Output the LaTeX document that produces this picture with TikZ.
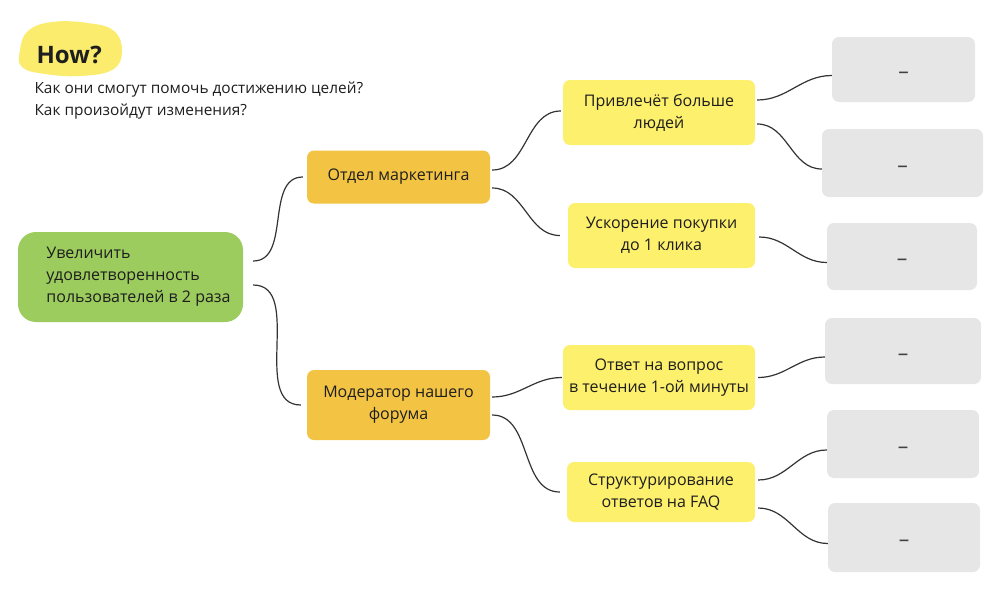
\documentclass[tikz,border=0pt]{standalone}
\usepackage{fontspec}
\setmainfont{Open Sans}
\definecolor{txt}{HTML}{1E1E1E}
\definecolor{cgreen}{HTML}{9CCB5E}
\definecolor{corange}{HTML}{F3C444}
\definecolor{cyellow}{HTML}{FDF06C}
\definecolor{cgrey}{HTML}{E6E6E6}
\definecolor{chow}{HTML}{FBEC6E}
\definecolor{cline}{HTML}{333333}
\newcommand{\indentline}{\hspace*{16pt}}
\begin{document}
\begin{tikzpicture}[x=1pt,y=-1pt,
  every node/.style={text=txt, font=\fontsize{16}{22}\selectfont},
  blob/.style={rounded corners=7pt, inner sep=0pt, align=center},
  greenbox/.style={blob, fill=cgreen, rounded corners=18pt},
  orangebox/.style={blob, fill=corange},
  yelbox/.style={blob, fill=cyellow},
  greybox/.style={blob, fill=cgrey, label={[yshift=-6pt, text=txt!85, font=\fontsize{21}{21}\selectfont]center:–}},
  conn/.style={draw=cline, line width=1.2pt},
]
\useasboundingbox (0,0) rectangle (1000,595);

% header
\fill[chow] plot[smooth cycle, tension=0.7] coordinates {(20,50) (28,31) (52,22) (88,23) (114,31) (122,52) (112,70) (80,76) (45,74) (22,67)};
\node[font=\bfseries\fontsize{24}{24}\selectfont, anchor=west] (how) at (33,55) {How?};
\node[anchor=west, font=\fontsize{15.4}{22}\selectfont, align=left] (sub) at (31,101) {Как они смогут помочь достижению целей?\\Как произойдут изменения?};

% nodes
\node[greenbox, minimum width=225pt, minimum height=90pt, align=left] (g) at (130.5,277) {\indentline Увеличить\\\indentline удовлетворенность\\\indentline пользователей в 2 раза};
\node[orangebox, minimum width=183pt, minimum height=53pt] (m1) at (398.5,177) {Отдел маркетинга};
\node[orangebox, minimum width=183pt, minimum height=70pt] (m2) at (398.5,405) {Модератор нашего\\форума};
\node[yelbox, minimum width=192pt, minimum height=65pt] (y1) at (659,112.5) {Привлечёт больше\\людей};
\node[yelbox, minimum width=187pt, minimum height=65pt] (y2) at (661.5,235.5) {Ускорение покупки\\до 1 клика};
\node[yelbox, minimum width=192pt, minimum height=65pt] (y3) at (659,377.5) {Ответ на вопрос\\в течение 1-ой минуты};
\node[yelbox, minimum width=188pt, minimum height=60pt] (y4) at (661,492) {Структурирование\\ответов на FAQ};
\node[greybox, minimum width=143pt, minimum height=65pt] (r1) at (903.5,69.5) {};
\node[greybox, minimum width=161pt, minimum height=68pt] (r2) at (902.5,163) {};
\node[greybox, minimum width=150pt, minimum height=67pt] (r3) at (902,256.5) {};
\node[greybox, minimum width=156pt, minimum height=66pt] (r4) at (903,351) {};
\node[greybox, minimum width=152pt, minimum height=68pt] (r5) at (903,444) {};
\node[greybox, minimum width=152pt, minimum height=69pt] (r6) at (904,537.5) {};

% connectors
\draw[conn] ([xshift=10pt,yshift=16pt]g.east) to[out=0,in=180] ([xshift=-4pt]m1.west);
\draw[conn] ([xshift=10pt,yshift=-8pt]g.east) to[out=0,in=180] ([xshift=-6pt]m2.west);
\draw[conn] ([xshift=2pt,yshift=7pt]m1.east) to[out=0,in=180] ([xshift=-2pt,yshift=1.5pt]y1.west);
\draw[conn] ([xshift=2pt,yshift=-11pt]m1.east) to[out=0,in=180] ([xshift=-8pt]y2.west);
\draw[conn] ([xshift=2pt,yshift=8pt]m2.east) to[out=0,in=180] ([xshift=-1pt]y3.west);
\draw[conn] ([xshift=2pt,yshift=-10pt]m2.east) to[out=0,in=180] ([xshift=-7pt]y4.west);
\draw[conn] ([xshift=2pt,yshift=12.5pt]y1.east) to[out=0,in=180] ([yshift=-6pt]r1.west);
\draw[conn] ([xshift=2pt,yshift=-11.5pt]y1.east) to[out=0,in=180] ([yshift=-6pt]r2.west);
\draw[conn] ([xshift=4pt,yshift=-1.5pt]y2.east) to[out=0,in=180] ([yshift=-6pt]r3.west);
\draw[conn] ([xshift=3pt]y3.east) to[out=0,in=180] ([yshift=-6pt]r4.west);
\draw[conn] ([xshift=3pt,yshift=12pt]y4.east) to[out=0,in=180] ([yshift=-6pt]r5.west);
\draw[conn] ([xshift=3pt,yshift=-16pt]y4.east) to[out=0,in=180] ([yshift=-6pt]r6.west);
\end{tikzpicture}
\end{document}
